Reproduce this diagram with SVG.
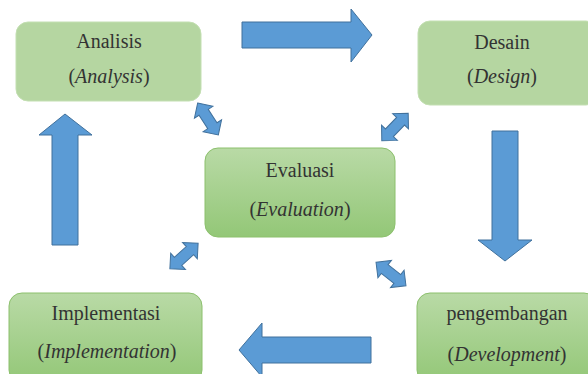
<svg xmlns="http://www.w3.org/2000/svg" width="588" height="374" viewBox="0 0 588 374">
<defs>
<linearGradient id="g" x1="0" y1="0" x2="0" y2="1">
<stop offset="0" stop-color="#b9daa6"/>
<stop offset="1" stop-color="#93c777"/>
</linearGradient>
<path id="dbl" d="M-19,0 L-8,-11 L-8,-5.5 L8,-5.5 L8,-11 L19,0 L8,11 L8,5.5 L-8,5.5 L-8,11 Z"/>
</defs>
<style>
.flat{fill:#b5d6a1;stroke:#c3dfb2;stroke-width:1}
.grad{fill:url(#g);stroke:#8cc06d;stroke-width:1}
.arr{fill:#5b9bd5;stroke:#41719c;stroke-width:1}
.t{font-family:'Liberation Serif','DejaVu Serif',serif;font-size:20px;fill:#333333;text-anchor:middle}
.it{font-style:italic}
</style>
<rect width="588" height="374" fill="#ffffff"/>
<g id="connectors">
<polygon class="arr" points="242,22 351,22 351,9 372,35 351,62 351,48 242,48"/>
<polygon class="arr" points="492,131 518,131 518,240 532,240 505,261 478,240 492,240"/>
<polygon class="arr" points="52,245 52,135 39,135 65,114 92,135 78,135 78,245"/>
<polygon class="arr" points="371,337 262,337 262,323 239,350 262,377 262,363 371,363"/>
<use class="arr" href="#dbl" transform="translate(208,119) rotate(57)"/>
<use class="arr" href="#dbl" transform="translate(395,127) rotate(-46)"/>
<use class="arr" href="#dbl" transform="translate(184,256) rotate(-42)"/>
<use class="arr" href="#dbl" transform="translate(391,274) rotate(38)"/>
</g>
<g id="analisis">
<rect class="flat" x="16" y="22" width="185" height="79" rx="12"/>
<text class="t" font-family="Liberation Serif, serif" x="109" y="48">Analisis</text>
<text class="t" font-family="Liberation Serif, serif" x="109" y="83">(<tspan class="it">Analysis</tspan>)</text>
</g>
<g id="desain">
<rect class="flat" x="418" y="21" width="180" height="84" rx="12"/>
<text class="t" font-family="Liberation Serif, serif" x="502" y="49">Desain</text>
<text class="t" font-family="Liberation Serif, serif" x="502" y="83">(<tspan class="it">Design</tspan>)</text>
</g>
<g id="evaluasi">
<rect class="grad" x="205" y="148" width="190" height="89" rx="13"/>
<text class="t" font-family="Liberation Serif, serif" x="300" y="177">Evaluasi</text>
<text class="t" font-family="Liberation Serif, serif" x="300" y="216">(<tspan class="it">Evaluation</tspan>)</text>
</g>
<g id="implementasi">
<rect class="grad" x="9" y="293" width="193" height="90" rx="13"/>
<text class="t" font-family="Liberation Serif, serif" x="106" y="320">Implementasi</text>
<text class="t" font-family="Liberation Serif, serif" x="107" y="358">(<tspan class="it">Implementation</tspan>)</text>
</g>
<g id="pengembangan">
<rect class="grad" x="417" y="293" width="180" height="90" rx="13"/>
<text class="t" font-family="Liberation Serif, serif" x="507" y="320">pengembangan</text>
<text class="t" font-family="Liberation Serif, serif" x="507" y="361">(<tspan class="it">Development</tspan>)</text>
</g>
</svg>
